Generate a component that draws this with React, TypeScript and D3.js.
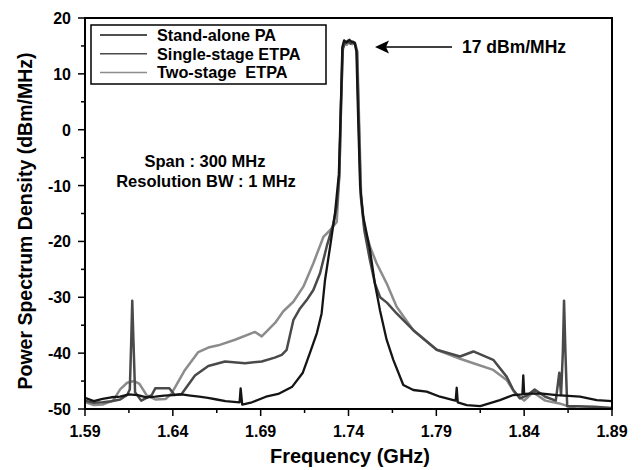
import React from 'react';
import * as d3 from 'd3';

const xTicks = [1.59, 1.64, 1.69, 1.74, 1.79, 1.84, 1.89];
const xMinorTicks = [1.615, 1.665, 1.715, 1.765, 1.815, 1.865];
const yTicks = [-50, -40, -30, -20, -10, 0, 10, 20];
const yMinorTicks = [-45, -35, -25, -15, -5, 5, 15];
const legendLabels = ['Stand-alone PA', 'Single-stage ETPA', 'Two-stage  ETPA'];
const seriesColors = ['#151515', '#4a4a4a', '#8c8c8c'];
const seriesWidths = [2.3, 2.5, 2.5];

const standAlone: [number, number][] = [
  [1.59, -48.0], [1.595, -48.6], [1.6, -48.2], [1.605, -47.9], [1.61, -47.8], [1.615, -47.4],
  [1.62, -47.5], [1.625, -47.9], [1.63, -47.8], [1.635, -47.6], [1.64, -47.5], [1.645, -47.4],
  [1.65, -47.6], [1.655, -47.8], [1.66, -48.0], [1.665, -48.3], [1.67, -48.6], [1.678, -48.8],
  [1.6786, -46.3], [1.6795, -49.2], [1.685, -48.8], [1.693, -47.8], [1.7, -47.3], [1.708, -46.0],
  [1.714, -43.5], [1.718, -40.0], [1.722, -36.4], [1.7247, -32.9], [1.7266, -27.0], [1.7295, -21.0],
  [1.7323, -15.0], [1.7345, -8.0], [1.7357, 5.0], [1.7365, 14.8], [1.7375, 16.0], [1.739, 15.6],
  [1.7405, 16.1], [1.742, 15.7], [1.7435, 15.6], [1.7445, 14.0], [1.7455, 2.0], [1.7466, -10.0],
  [1.7484, -15.6], [1.7522, -21.5], [1.755, -27.5], [1.7579, -32.3], [1.7617, -37.6], [1.7655, -41.2],
  [1.7712, -45.7], [1.7769, -46.6], [1.7845, -46.9], [1.7921, -47.8], [1.7997, -48.4], [1.801, -48.5],
  [1.8016, -46.2], [1.8022, -48.8], [1.8073, -49.3], [1.815, -49.5], [1.8262, -48.4], [1.8338, -47.5],
  [1.839, -47.4], [1.8395, -44.0], [1.84, -47.3], [1.849, -47.2], [1.8585, -47.5], [1.8718, -47.8],
  [1.8813, -48.4], [1.89, -48.6],
];

const singleStage: [number, number][] = [
  [1.59, -48.5], [1.595, -48.9], [1.6, -48.8], [1.605, -48.6], [1.61, -48.3], [1.614, -47.5],
  [1.6155, -46.5], [1.6163, -38.0], [1.6169, -30.6], [1.6176, -38.0], [1.6185, -47.0], [1.622, -48.5],
  [1.628, -47.5], [1.63, -46.3], [1.638, -46.3], [1.641, -47.5], [1.645, -47.3], [1.6526, -44.0],
  [1.6602, -42.3], [1.6697, -41.5], [1.6811, -41.8], [1.6906, -41.5], [1.698, -40.8], [1.702, -40.3],
  [1.7048, -39.4], [1.7086, -34.1], [1.7124, -32.0], [1.7162, -30.5], [1.72, -28.7], [1.7238, -25.7],
  [1.7276, -20.9], [1.7314, -16.8], [1.7333, -13.8], [1.7348, -8.0], [1.7358, 5.0], [1.7368, 14.5],
  [1.738, 15.5], [1.7395, 15.9], [1.741, 15.4], [1.7425, 15.8], [1.7438, 15.3], [1.7448, 14.0],
  [1.7458, 2.0], [1.747, -12.0], [1.749, -18.0], [1.752, -23.0], [1.755, -27.5], [1.758, -30.0],
  [1.762, -31.0], [1.7674, -32.9], [1.7769, -35.9], [1.7902, -39.4], [1.8035, -40.6], [1.8111, -39.7],
  [1.8224, -41.2], [1.83, -44.2], [1.8338, -46.6], [1.8376, -48.1], [1.842, -47.5], [1.846, -46.5],
  [1.852, -47.8], [1.858, -48.5], [1.86, -43.5], [1.861, -47.5], [1.862, -40.0], [1.8627, -30.6],
  [1.8635, -40.0], [1.8645, -49.5], [1.87, -49.5], [1.88, -49.6], [1.89, -49.8],
];

const twoStage: [number, number][] = [
  [1.59, -48.8], [1.595, -49.3], [1.6, -49.2], [1.606, -48.5], [1.61, -46.5], [1.614, -45.3],
  [1.618, -45.0], [1.621, -45.5], [1.625, -47.5], [1.63, -48.3], [1.636, -48.2], [1.6393, -47.2],
  [1.6469, -43.0], [1.6545, -39.8], [1.6602, -39.0], [1.6659, -38.6], [1.6754, -37.6], [1.6868, -36.2],
  [1.6906, -37.0], [1.6982, -34.6], [1.7029, -32.5], [1.7086, -30.8], [1.7143, -28.1], [1.72, -23.9],
  [1.7257, -19.2], [1.7295, -18.0], [1.7333, -16.5], [1.7348, -8.0], [1.7358, 5.0], [1.7366, 14.5],
  [1.7378, 15.6], [1.739, 15.2], [1.7405, 15.8], [1.742, 15.3], [1.7437, 15.5], [1.745, 14.0],
  [1.746, 2.0], [1.7472, -12.0], [1.749, -17.5], [1.7522, -20.9], [1.756, -23.9], [1.7617, -27.5],
  [1.7674, -31.7], [1.7769, -35.9], [1.7902, -39.4], [1.8035, -41.0], [1.8111, -41.8], [1.8224, -43.0],
  [1.83, -44.8], [1.8348, -47.2], [1.84, -48.5], [1.845, -47.0], [1.852, -48.5], [1.86, -49.0],
  [1.87, -50.0], [1.88, -49.8], [1.89, -50.0],
];

const allSeries = [standAlone, singleStage, twoStage];

const FONT = '"Liberation Sans", Arial, sans-serif';

export default function App() {
  const x = d3.scaleLinear().domain([1.59, 1.89]).range([85, 612]);
  const y = d3.scaleLinear().domain([-50, 20]).range([409, 18]);
  const line = d3
    .line<[number, number]>()
    .x((d) => x(d[0]))
    .y((d) => y(d[1]));

  const drawOrder = [2, 1, 0];

  return (
    <svg
      width={642}
      height={470}
      style={{ position: 'absolute', left: 0, top: 0, background: '#fff' }}
      fontFamily={FONT}
      fontWeight="bold"
    >
      <defs>
        <clipPath id="plotClip">
          <rect x={85} y={18} width={527} height={391} />
        </clipPath>
      </defs>
      <rect x={0} y={0} width={642} height={470} fill="#fff" />

      <g clipPath="url(#plotClip)">
        {drawOrder.map((i) => (
          <path
            key={i}
            d={line(allSeries[i]) || ''}
            fill="none"
            stroke={seriesColors[i]}
            strokeWidth={seriesWidths[i]}
            strokeLinejoin="round"
          />
        ))}
      </g>

      {/* frame */}
      <rect x={85} y={18} width={527} height={391} fill="none" stroke="#000" strokeWidth={2} />

      {/* x ticks */}
      {xTicks.map((t) => (
        <g key={'x' + t}>
          <line x1={x(t)} x2={x(t)} y1={409} y2={416} stroke="#000" strokeWidth={1.5} />
          <text x={x(t)} y={437} textAnchor="middle" fontSize={16}>
            {t.toFixed(2)}
          </text>
        </g>
      ))}
      {xMinorTicks.map((t) => (
        <line key={'xm' + t} x1={x(t)} x2={x(t)} y1={409} y2={413} stroke="#000" strokeWidth={1.5} />
      ))}

      {/* y ticks */}
      {yTicks.map((t) => (
        <g key={'y' + t}>
          <line x1={78} x2={85} y1={y(t)} y2={y(t)} stroke="#000" strokeWidth={1.5} />
          <text x={71} y={y(t) + 6} textAnchor="end" fontSize={16}>
            {t}
          </text>
        </g>
      ))}
      {yMinorTicks.map((t) => (
        <line key={'ym' + t} x1={81} x2={85} y1={y(t)} y2={y(t)} stroke="#000" strokeWidth={1.5} />
      ))}

      {/* axis titles */}
      <text x={350} y={463} textAnchor="middle" fontSize={20}>
        Frequency (GHz)
      </text>
      <text
        transform={`translate(32, 221) rotate(-90)`}
        textAnchor="middle"
        fontSize={19.5}
      >
        Power Spectrum Density (dBm/MHz)
      </text>

      {/* legend */}
      <rect x={91} y={25} width={235} height={59} fill="#fff" stroke="#000" strokeWidth={1.5} />
      {legendLabels.map((lab, i) => {
        const ry = 35 + i * 18.7;
        return (
          <g key={lab}>
            <line x1={100} x2={147} y1={ry} y2={ry} stroke={seriesColors[i]} strokeWidth={1.5} />
            <text x={157} y={ry + 6} fontSize={16.3} style={{ whiteSpace: 'pre' }}>
              {lab}
            </text>
          </g>
        );
      })}

      {/* annotations */}
      <text x={205} y={167} textAnchor="middle" fontSize={16.5}>
        Span : 300 MHz
      </text>
      <text x={206} y={187} textAnchor="middle" fontSize={16.5}>
        Resolution BW : 1 MHz
      </text>

      <line x1={386} x2={452} y1={47} y2={47} stroke="#000" strokeWidth={1.5} />
      <path d="M375,47 L389,40.5 L386,47 L389,53.5 Z" fill="#000" />
      <text x={462} y={53} fontSize={17.5}>
        17 dBm/MHz
      </text>
    </svg>
  );
}
